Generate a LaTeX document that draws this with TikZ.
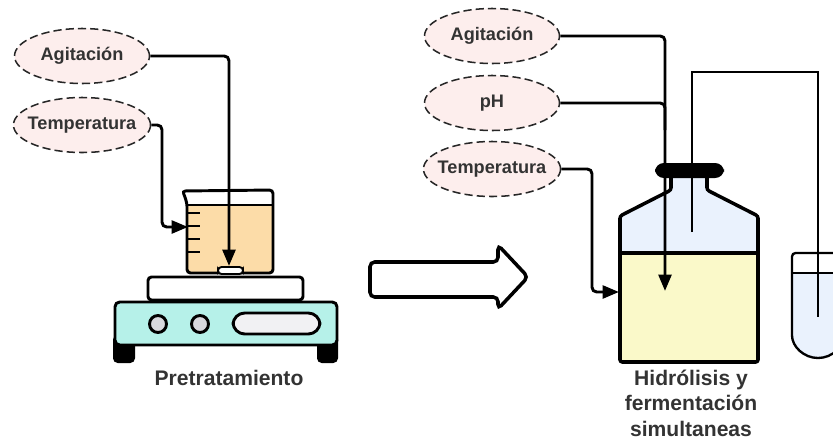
\documentclass[tikz,border=0pt]{standalone}
\usepackage{fontspec}
\setmainfont{Liberation Sans}
\usetikzlibrary{arrows.meta, shapes.geometric}

\definecolor{pinkfill}{HTML}{FDEEED}
\definecolor{txtgray}{HTML}{333333}
\definecolor{peach}{HTML}{FCDCA8}
\definecolor{platebase}{HTML}{B6F1E9}
\definecolor{knobgray}{HTML}{D8D8DD}
\definecolor{screen}{HTML}{F1F1F3}
\definecolor{airblue}{HTML}{EAF2FD}
\definecolor{brothyel}{HTML}{FAF9C9}

\begin{document}
\begin{tikzpicture}[x=0.03cm, y=-0.03cm,
  var/.style={ellipse, draw=black!85, dash pattern=on 7pt off 3.5pt, line width=1.3pt,
    fill=pinkfill, minimum width=4.05cm, minimum height=1.65cm, inner xsep=-5pt, inner ysep=0pt,
    font=\fontsize{15.5}{17}\selectfont\bfseries, text=txtgray},
  feed/.style={line width=2.5pt, rounded corners=4, -{Triangle[length=14pt,width=11pt]}},
  ttl/.style={font=\fontsize{18}{21.8}\selectfont\bfseries, text=txtgray, align=center},
  part/.style={line width=2.5pt, draw=black}]
\clip (0,0) rectangle (833,443);

% hot plate
\fill[black, rounded corners=4] (113,335) rectangle (135,363);
\fill[black, rounded corners=4] (317,335) rectangle (338,363);
\draw[part, fill=white, rounded corners=3] (148,277) rectangle (303,300);
\draw[part, fill=platebase, rounded corners=4] (115,302) rectangle (337,345);
\foreach \k in {158,200}
  \draw[part, fill=knobgray] (\k,324) circle[radius=8.5];
\draw[part, fill=screen, rounded corners=10] (233,313) rectangle (320,334);

% beaker
\fill[white] (182,190) -- (273,190) -- (273,273) -- (187,273) -- (187,203) -- cycle;
\fill[peach, rounded corners=3] (187,205) rectangle (273,273);
\draw[part, rounded corners=3] (187,203) to[out=110,in=-60] (182,191) -- (273,190) -- (273,273) -- (187,273) -- cycle;
\draw[part] (187,205) -- (273,205);
\foreach \g in {213,226,239,252}
  \draw[line width=2.2pt] (187,\g) -- (200,\g);
\draw[line width=1.6pt, fill=white, rounded corners=3] (218,267) rectangle (243,274);

% jar for the fermentation
\fill[airblue] (620,362) -- (620,216) -- (671,190) -- (671,178) -- (707,178) -- (707,190) -- (758,216) -- (758,362) -- cycle;
\fill[brothyel] (620,253) rectangle (758,362);
\draw[line width=3pt, rounded corners=2] (620,362) -- (620,216) -- (671,190) -- (671,176)
  -- (707,176) -- (707,190) -- (758,216) -- (758,362) -- cycle;
\draw[line width=3pt] (620,253) -- (758,253);
\fill[black, rounded corners=7.5] (655,163) rectangle (724,178);

% trap tube
\fill[white, rounded corners=3] (844,253) -- (792,253) -- (792,332) arc(180:0:26) -- cycle;
\fill[airblue] (792,273) -- (792,332) arc(180:0:26) -- (844,273) -- cycle;
\draw[line width=2pt, rounded corners=3] (844,253) -- (792,253) -- (792,332) arc(180:0:26) -- (844,273);
\draw[line width=2pt] (792,273) -- (844,273);

\coordinate (dip) at (692,232);
\coordinate (probe) at (818,317);
\draw[line width=2.4pt] (dip) |- (818,72) -- (probe);

% block arrow
\draw[line width=3pt, rounded corners=4] (370,262) -- (498,262) -- (498,245) -- (528,277)
  -- (498,309) -- (498,297) -- (370,297) -- cycle;

% variables
\node[var] (agit1) at (82,56) {Agitación};
\node[var] (temp1) at (82,125) {Temperatura};
\node[var] (agit2) at (492,36) {Agitación};
\node[var] (ph) at (492,103) {pH};
\node[var] (temp2) at (492,169) {Temperatura};

\coordinate (bar) at (229,266);
\coordinate (wall) at (188,227);
\coordinate (broth) at (665,291);
\coordinate (jarwall) at (619,292);

\draw[feed] (agit1.east) -| (bar);
\draw[feed] (temp1.east) -| (162,227) -- (wall);
\draw[feed] (agit2.east) -| (broth);
\draw[line width=2.5pt, rounded corners=4] (ph.east) -| (665,130);
\draw[feed] (temp2.east) -| (592,292) -- (jarwall);

\node[ttl] (pre) at (229,378) {Pretratamiento};
\node[ttl] (hfs) at (691,403) {Hidrólisis y\\fermentación\\simultaneas};
\end{tikzpicture}
\end{document}
